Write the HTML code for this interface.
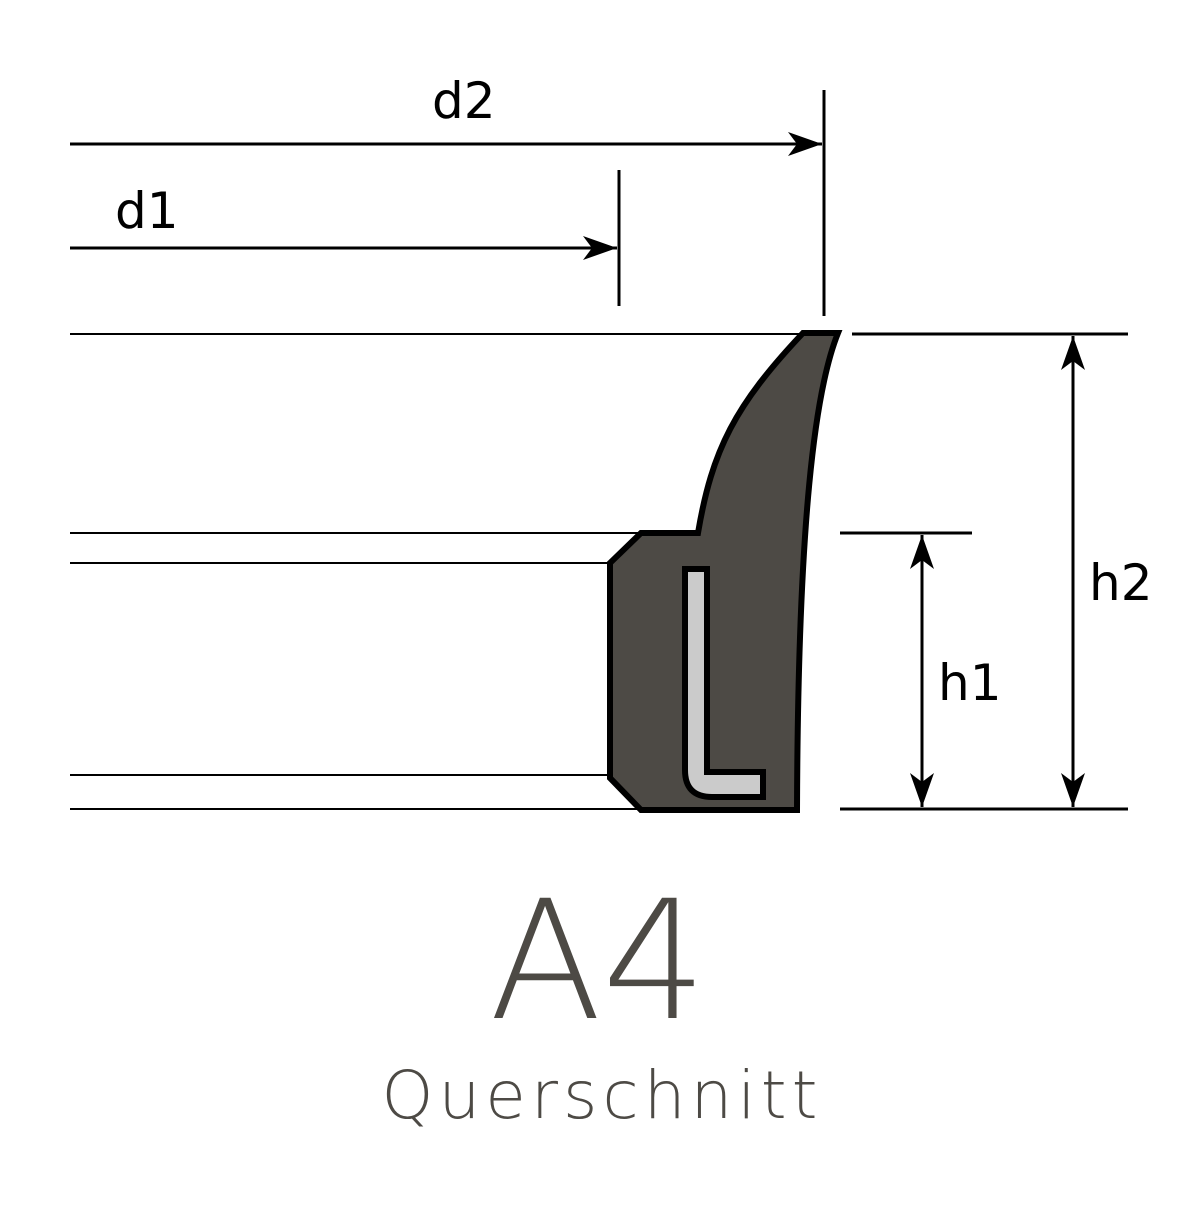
<!DOCTYPE html>
<html><head><style>body{margin:0;background:#fff}</style></head><body>
<svg width="1200" height="1200" viewBox="0 0 1200 1200" xmlns="http://www.w3.org/2000/svg">
<defs><marker id="a" viewBox="0 0 34 24" refX="34" refY="12" markerWidth="34" markerHeight="24" markerUnits="userSpaceOnUse" orient="auto"><path d="M0,0 L34,12 L0,24 L9,12 Z" fill="#000"/></marker></defs>
<g stroke="#000" stroke-width="2" fill="none">
<line x1="70" y1="334" x2="805" y2="334"/>
<line x1="70" y1="533" x2="645" y2="533"/>
<line x1="70" y1="563" x2="612" y2="563"/>
<line x1="70" y1="775" x2="612" y2="775"/>
<line x1="70" y1="809" x2="645" y2="809"/>
<line x1="852" y1="334" x2="1128" y2="334" stroke-width="3"/>
<line x1="840" y1="533" x2="972" y2="533" stroke-width="3"/>
<line x1="840" y1="809" x2="1128" y2="809" stroke-width="3"/>
<line x1="619" y1="170" x2="619" y2="306" stroke-width="3"/>
<line x1="824" y1="90" x2="824" y2="316" stroke-width="3"/>
<line x1="70" y1="144" x2="822" y2="144" stroke-width="3" marker-end="url(#a)"/>
<line x1="70" y1="248" x2="617" y2="248" stroke-width="3" marker-end="url(#a)"/>
<line x1="922" y1="600" x2="922" y2="535" stroke-width="3" marker-end="url(#a)"/>
<line x1="922" y1="560" x2="922" y2="807" stroke-width="3" marker-end="url(#a)"/>
<line x1="1073" y1="400" x2="1073" y2="336" stroke-width="3" marker-end="url(#a)"/>
<line x1="1073" y1="360" x2="1073" y2="807" stroke-width="3" marker-end="url(#a)"/>
</g>
<path d="M803,333 L838,333 C815,390 798,520 797,810 L641,810 L610,778 L610,563 L641,533 L698,533 C712,450 735,405 803,333 Z" fill="#4d4a45" stroke="#000" stroke-width="6" stroke-linejoin="miter"/>
<path d="M685,569 L707,569 L707,772 L763,772 L763,797 L712,797 Q685,797 685,770 Z" fill="#cbcbcb" stroke="#000" stroke-width="6"/>
<g font-family="'DejaVu Sans',sans-serif" font-size="50" fill="#000">
<text x="432" y="118">d2</text>
<text x="115" y="228">d1</text>
<text x="938" y="700">h1</text>
<text x="1089" y="600">h2</text>
</g>
<text x="598" y="1018" text-anchor="middle" font-family="'DejaVu Sans',sans-serif" font-weight="200" font-size="165" fill="#4d4a45">A4</text>
<text x="602" y="1118" text-anchor="middle" font-family="'DejaVu Sans',sans-serif" font-weight="200" font-size="66" letter-spacing="5" fill="#4d4a45">Querschnitt</text>
</svg>
</body></html>
